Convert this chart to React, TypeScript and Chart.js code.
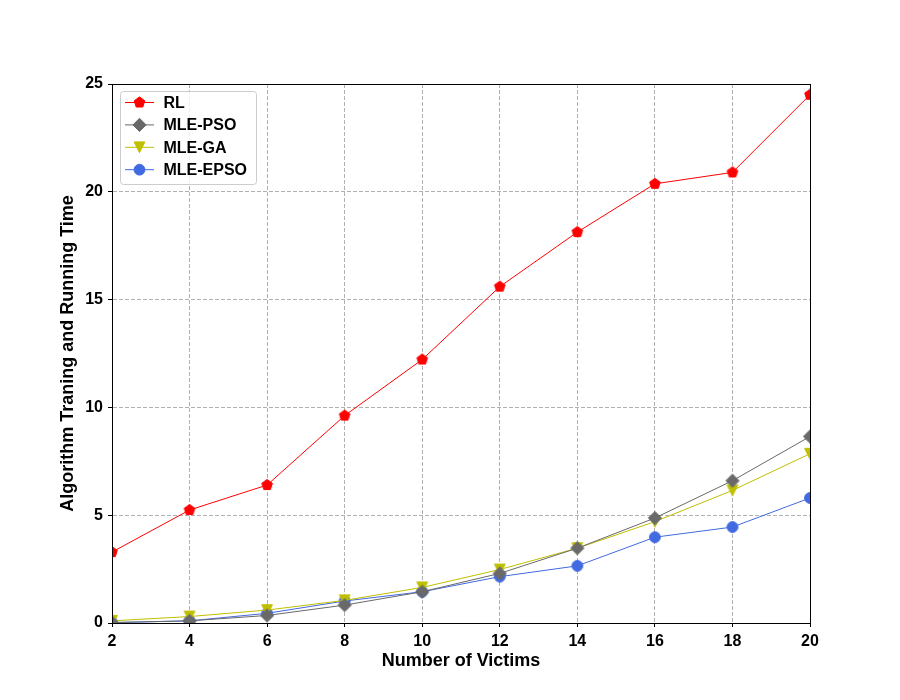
import React, { useEffect, useRef } from 'react';
import { Chart, registerables } from 'chart.js';

Chart.register(...registerables);

const victims = [2, 4, 6, 8, 10, 12, 14, 16, 18, 20];
const rl = [3.29, 5.24, 6.4, 9.62, 12.22, 15.6, 18.13, 20.37, 20.9, 24.5];
const mlePso = [0.02, 0.1, 0.35, 0.83, 1.45, 2.3, 3.47, 4.87, 6.6, 8.65];
const mleGa = [0.1, 0.3, 0.6, 1.05, 1.65, 2.48, 3.47, 4.7, 6.15, 7.85];
const mleEpso = [0.02, 0.1, 0.45, 1.02, 1.45, 2.15, 2.65, 3.98, 4.45, 5.8];
const seriesNames = ['RL', 'MLE-PSO', 'MLE-GA', 'MLE-EPSO'];
const seriesColors = ['#ff0000', '#696969', '#bfbf00', '#4169e1'];
const seriesMarkers = ['pentagon', 'diamond', 'triangleDown', 'circle'];
const xTitle = 'Number of Victims';
const yTitle = 'Algorithm Traning and Running Time';

const FONT = "'Liberation Sans', Arial, sans-serif";

function traceMarker(ctx: CanvasRenderingContext2D, kind: string, cx: number, cy: number) {
  ctx.beginPath();
  if (kind === 'pentagon') {
    const r = 5.6;
    for (let i = 0; i < 5; i++) {
      const a = -Math.PI / 2 + (i * 2 * Math.PI) / 5;
      const px = cx + r * Math.cos(a);
      const py = cy + r * Math.sin(a);
      if (i === 0) ctx.moveTo(px, py);
      else ctx.lineTo(px, py);
    }
  } else if (kind === 'diamond') {
    const r = 6.6;
    ctx.moveTo(cx, cy - r);
    ctx.lineTo(cx + r, cy);
    ctx.lineTo(cx, cy + r);
    ctx.lineTo(cx - r, cy);
  } else if (kind === 'triangleDown') {
    const r = 5.4;
    ctx.moveTo(cx, cy + r);
    ctx.lineTo(cx - r, cy - r);
    ctx.lineTo(cx + r, cy - r);
  } else {
    ctx.arc(cx, cy, 5.4, 0, Math.PI * 2);
  }
  ctx.closePath();
}

function paintMarker(ctx: CanvasRenderingContext2D, kind: string, color: string, cx: number, cy: number) {
  ctx.save();
  traceMarker(ctx, kind, cx, cy);
  ctx.fillStyle = color;
  ctx.strokeStyle = color;
  ctx.lineWidth = 1;
  ctx.setLineDash([]);
  ctx.fill();
  ctx.stroke();
  ctx.restore();
}

function makeMarkerCanvas(kind: string, color: string) {
  const size = 20;
  const c = document.createElement('canvas');
  c.width = size;
  c.height = size;
  const ctx = c.getContext('2d')!;
  paintMarker(ctx, kind, color, size / 2, size / 2);
  return c;
}

const framePlugin = {
  id: 'frameAndLegend',
  afterDatasetsDraw(chart: any) {
    const { ctx, chartArea } = chart;
    const { left, right, top, bottom } = chartArea;
    ctx.save();
    ctx.strokeStyle = '#000000';
    ctx.lineWidth = 1;
    ctx.setLineDash([]);
    ctx.strokeRect(Math.round(left) + 0.5, Math.round(top) + 0.5, Math.round(right - left), Math.round(bottom - top));

    // legend
    const bx = left + 8.5;
    const by = top + 7.5;
    const bw = 136;
    const bh = 93;
    ctx.beginPath();
    (ctx as any).roundRect(bx, by, bw, bh, 3);
    ctx.fillStyle = 'rgba(255,255,255,0.8)';
    ctx.fill();
    ctx.strokeStyle = '#cccccc';
    ctx.stroke();
    ctx.font = `bold 16px ${FONT}`;
    ctx.textBaseline = 'middle';
    ctx.textAlign = 'left';
    seriesNames.forEach((name, i) => {
      const y = by + 11 + i * 22.4;
      ctx.beginPath();
      ctx.strokeStyle = seriesColors[i];
      ctx.lineWidth = 1;
      ctx.moveTo(bx + 4.5, y);
      ctx.lineTo(bx + 33.5, y);
      ctx.stroke();
      paintMarker(ctx, seriesMarkers[i], seriesColors[i], bx + 19, y);
      ctx.fillStyle = '#000000';
      ctx.fillText(name, bx + 43, y + 1);
    });
    ctx.restore();
  },
};

export default function App() {
  const canvasRef = useRef<HTMLCanvasElement | null>(null);

  useEffect(() => {
    document.body.style.margin = '0';
    const canvas = canvasRef.current;
    if (!canvas) return;
    const allSeries = [rl, mlePso, mleGa, mleEpso];
    const datasets = allSeries.map((vals, i) => ({
      label: seriesNames[i],
      data: victims.map((v, j) => ({ x: v, y: vals[j] })),
      borderColor: seriesColors[i],
      backgroundColor: seriesColors[i],
      borderWidth: 1,
      pointStyle: makeMarkerCanvas(seriesMarkers[i], seriesColors[i]),
      pointRadius: 6,
      tension: 0,
      fill: false,
    }));
    const tickFont = { family: FONT, size: 16, weight: 'bold' as const };
    const titleFont = { family: FONT, size: 18, weight: 'bold' as const };
    const chart = new Chart(canvas, {
      type: 'line',
      data: { datasets: datasets as any },
      options: {
        animation: false,
        responsive: false,
        maintainAspectRatio: false,
        layout: { padding: { left: 0, top: 84, right: 90, bottom: 0 } },
        plugins: { legend: { display: false }, tooltip: { enabled: false } },
        scales: {
          x: {
            type: 'linear',
            min: 2,
            max: 20,
            ticks: { stepSize: 2, color: '#000000', font: tickFont, padding: 5 },
            grid: { color: '#b0b0b0', tickColor: '#000000', tickLength: 4, lineWidth: 1 },
            border: { color: '#000000', width: 1, dash: [4, 2] },
            title: { display: true, text: xTitle, color: '#000000', font: titleFont, padding: { top: 0, bottom: 28 } },
            afterFit: (s: any) => {
              s.height = 77;
            },
          },
          y: {
            type: 'linear',
            min: 0,
            max: 25,
            ticks: { stepSize: 5, color: '#000000', font: tickFont, padding: 5 },
            grid: { color: '#b0b0b0', tickColor: '#000000', tickLength: 4, lineWidth: 1 },
            border: { color: '#000000', width: 1, dash: [4, 2] },
            title: { display: true, text: yTitle, color: '#000000', font: titleFont, padding: { top: 57, bottom: 0 } },
            afterFit: (s: any) => {
              s.width = 112;
            },
          },
        },
      },
      plugins: [framePlugin],
    });
    return () => chart.destroy();
  }, []);

  return (
    <div style={{ position: 'absolute', left: 0, top: 0, width: 900, height: 700, background: '#ffffff' }}>
      <canvas ref={canvasRef} width={900} height={700} style={{ display: 'block', width: 900, height: 700 }} />
    </div>
  );
}
